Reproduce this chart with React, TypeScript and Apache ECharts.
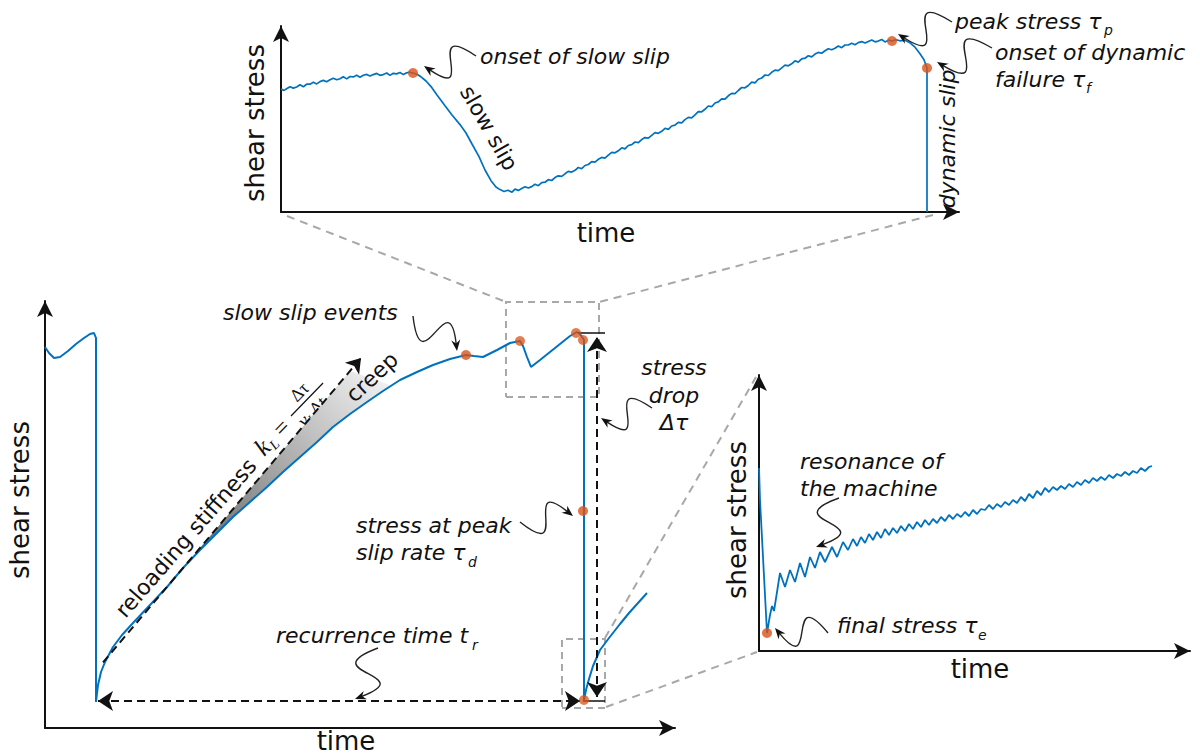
import React, { useEffect, useRef } from "react";
import * as echarts from "echarts";

const BLUE = "#0072BD";
const ORANGE = "#D95319";
const SANS = "'DejaVu Sans', Verdana, sans-serif";
const SERIF = "'Liberation Serif', 'DejaVu Serif', serif";

// ---------- top panel: one slow slip + dynamic event (time, shear stress) ----------
const topStress: number[][] = [
  [0, 122.9], [3, 121.6], [6, 123.5], [9, 125.3], [12.3, 123.9], [15.7, 125.0], [19, 127.2], [22.3, 125.3],
  [25.7, 127.8], [29, 127.8], [32.3, 129.7], [35.7, 128.1], [39, 130.4], [42.3, 131.6], [45.7, 130.2],
  [49, 132.2], [52.3, 133.8], [55.7, 132.2], [59, 133.2], [62.3, 135.2], [65.7, 133.1], [69, 135.5],
  [72.3, 135.1], [75.7, 136.7], [79, 134.8], [82.3, 136.7], [85.7, 137.6], [89, 135.9], [92.3, 137.4],
  [95.7, 138.6], [99, 136.7], [102.3, 137.4], [105.7, 139], [109, 136.6], [112.3, 138.7], [115.7, 138.1],
  [119, 139.5], [122.3, 137.4], [125.7, 139.2], [129, 139.8], [132, 139],
  [136, 137.8], [140, 135.2], [145, 131], [150, 125.4], [156, 117], [164, 106.3], [171, 97], [179, 87.4],
  [185, 79], [191, 68], [198, 55.4], [204, 42], [210, 31.3], [215, 25], [219, 22.4], [223, 20.5], [227, 21.8],
  [231, 19.8],
  [234, 22.9], [237.3, 21.6], [240.7, 23.5], [244, 25.3], [247.3, 24.0], [250.7, 25.4], [254, 27.7],
  [257.3, 26.3], [260.7, 29.3], [264, 29.8], [267.3, 32.3], [270.7, 31.5], [274, 34.4], [277.3, 36.2],
  [280.7, 35.6], [284, 38.2], [287.3, 40.6], [290.7, 39.9], [294, 41.7], [297.3, 44.5], [300.7, 43.3],
  [304, 46.5], [307.3, 47.5], [310.7, 50.3], [314, 49.8], [317.3, 52.7], [320.7, 54.6], [324, 53.9],
  [327.3, 56.9], [330.7, 59.6], [334, 59.2], [337.3, 61.2], [340.7, 64.2], [344, 63.1], [347.3, 66.5],
  [350.7, 67.3], [354, 70], [357.3, 69.3], [360.7, 72.4], [364, 74.4], [367.3, 73.9], [370.7, 76.7],
  [374, 79.3], [377.3, 78.7], [380.7, 80.7], [384, 83.7], [387.3, 82.6], [390.7, 86], [394, 86.8],
  [397.3, 89.7], [400.7, 89.1], [404, 92.4], [407.3, 94.6], [410.7, 94.2], [414, 97.2], [417.3, 100.3],
  [420.7, 100.2], [424, 102.7], [427.3, 106], [430.7, 105.3], [434, 109], [437.3, 110.1], [440.7, 113.2],
  [444, 112.8], [447.3, 116.2], [450.7, 118.6], [454, 118.4], [457.3, 121.5], [460.7, 124.5], [464, 124.2],
  [467.3, 126.5], [470.7, 129.9], [474, 129.1], [477.3, 132.8], [480.7, 134], [484, 137], [487.3, 136.5],
  [490.7, 139.7], [494, 141.9], [497.3, 141.4], [500.7, 144.2], [504, 146.8], [507.3, 146.2], [510.7, 148.2],
  [514, 151.2], [517.3, 149.9], [520.7, 153.2], [524, 153.8], [527.3, 156.2], [530.7, 155.1], [534, 157.9],
  [537.3, 159.6], [540.7, 158.7], [544, 161.2], [547.3, 163.3], [550.7, 162.2], [554, 163.7], [557.3, 166],
  [560.7, 164.3], [564, 167], [567.3, 167], [570.7, 168.8], [574, 167.3], [577.3, 169.4], [580.7, 170.4],
  [584, 168.9], [587.3, 170.5], [590.7, 172], [594, 170.2], [597.3, 170.9], [600.7, 172.5], [604, 170.1],
  [607.5, 171.8], [611, 171],
  [615, 172.2], [619, 171.2], [624, 171.8], [629, 169.2], [634, 164.8], [639, 158.2], [643, 152.3],
  [646, 144], [646, 0],
];
const topMarks: number[][] = [[132, 139], [611, 171], [646, 144]];

// ---------- main panel: stick-slip cycle ----------
const mainStress: number[][] = [
  [0, 381], [4, 375], [9, 370], [15, 371], [23, 377], [31, 384], [39, 390], [45, 394], [49, 395], [51, 390],
  [51, 26], [53, 43], [56, 56], [60, 66], [68, 81], [77, 93], [88, 105], [105, 123], [122, 141], [138, 160],
  [155, 178], [172, 195], [188, 211], [205, 226], [222, 241], [238, 256], [255, 271], [272, 286], [288, 301],
  [305, 314], [322, 326], [338, 337], [355, 348], [372, 356], [388, 363], [405, 369], [421, 373], [429, 372],
  [438, 371], [452, 378], [465, 385], [475, 387], [478, 382], [482, 371], [486, 361], [495, 368], [505, 376],
  [515, 384], [525, 392], [532, 396], [535, 394], [539, 388],
  [539, 28], [541, 38], [544, 49], [548, 62], [555, 78], [564, 90], [575, 104], [584, 115], [593, 125], [602, 135],
];
const mainMarksSolid: number[][] = [[421, 373], [538, 217]];
const mainMarksLight: number[][] = [[475, 387], [531, 395], [538, 388], [539, 28]];
const tangentLine: number[][] = [[58, 65.6], [316, 370]];
const creepArea: number[][] = [
  [155, 180], [305, 357], [345, 343], [338, 337], [322, 326], [305, 314], [288, 301], [272, 286],
  [255, 271], [238, 256], [222, 241], [205, 226], [188, 211], [172, 195], [155, 178],
];
const recurrenceArrow: number[][] = [[53, 27], [535, 27]];
const dropArrow: number[][] = [[552, 31], [552, 391]];
const dropTicks: number[][][] = [[[533, 395], [560, 395]], [[538, 27], [560, 27]]];
const zoomBoxTop: number[][] = [[461, 331], [554, 331], [554, 426], [461, 426], [461, 331]];
const zoomBoxBottom: number[][] = [[517, 20], [560, 20], [560, 89], [517, 89], [517, 20]];

// ---------- right panel: after the event, machine resonance ----------
const resStress: number[][] = [
  [0, 183], [1, 151], [8, 18], [11, 36], [13, 45], [15, 40], [21, 78], [26, 64], [31, 81], [36, 69],
  [41, 88], [46, 74], [51, 94], [56, 83], [61, 99], [66, 89], [73, 104], [78, 94], [84, 109], [89, 101],
  [94, 112], [98, 105], [102, 114], [106, 108], [110, 117], [114, 111], [118, 119], [122, 113], [126, 122],
  [130, 116], [134, 123], [138, 118], [142, 125], [146, 120], [150, 127], [154, 122], [158, 129], [162, 124],
  [166, 131], [170, 126], [174, 132], [178, 128], [182, 134], [186, 130], [190, 136], [194, 132], [198, 137],
  [202, 134], [206, 139], [210, 135], [214, 141], [218, 137], [222, 142], [226, 141], [230, 146], [234, 142],
  [238, 147], [242, 144], [246, 149], [250, 146], [254, 151], [258, 148], [262, 154], [266, 150], [270, 157],
  [274, 153], [278, 160], [282, 156], [286, 163], [290, 159], [294, 164], [298, 161], [302, 165], [306, 162],
  [310, 167], [314, 164], [318, 169], [322, 166], [326, 171], [330, 168], [334, 173], [338, 170], [342, 174],
  [346, 171], [350, 176], [354, 173], [358, 177], [362, 175], [366, 179], [370, 176], [374, 180], [378, 178],
  [382, 183], [386, 180], [390, 184], [393, 185],
];
const resMarks: number[][] = [[8, 18]];

// ---------- helpers for annotations ----------
function txt(text: string, x: number, y: number, o: any = {}) {
  return {
    type: "text", x, y, z: 30, rotation: o.rot || 0,
    style: {
      text, fill: "#111", fontSize: o.size || 22, fontFamily: o.family || SANS,
      fontStyle: o.italic ? "italic" : "normal",
      align: o.align || "left", verticalAlign: "middle",
    },
  };
}
const it = (text: string, x: number, y: number, o: any = {}) => txt(text, x, y, { italic: true, ...o });
const sub = (text: string, x: number, y: number) => txt(text, x, y, { italic: true, size: 14 });

function squiggle(sx: number, sy: number, ex: number, ey: number, amp = 0.9, flip = 1) {
  const dx = ex - sx, dy = ey - sy;
  const len = Math.hypot(dx, dy);
  const nx = (-dy / len) * flip, ny = (dx / len) * flip;
  const a = len * amp;
  const c1x = sx + dx * 0.9 + nx * a, c1y = sy + dy * 0.9 + ny * a;
  const c2x = sx + dx * 0.1 - nx * a, c2y = sy + dy * 0.1 - ny * a;
  let ux = ex - c2x, uy = ey - c2y;
  const ul = Math.hypot(ux, uy);
  ux /= ul; uy /= ul;
  const L = 11, W = 4.5;
  const bx = ex - ux * L, by = ey - uy * L;
  const px = -uy, py = ux;
  return [
    {
      type: "bezierCurve", z: 30,
      shape: { x1: sx, y1: sy, x2: ex - ux * 7, y2: ey - uy * 7, cpx1: c1x, cpy1: c1y, cpx2: c2x, cpy2: c2y },
      style: { stroke: "#222", lineWidth: 1.4, fill: null },
    },
    {
      type: "polygon", z: 30,
      shape: { points: [[ex, ey], [bx + px * W, by + py * W], [ex - ux * 7.5, ey - uy * 7.5], [bx - px * W, by - py * W]] },
      style: { fill: "#111" },
    },
  ];
}

function connector(x1: number, y1: number, x2: number, y2: number) {
  return {
    type: "line", z: 1, shape: { x1, y1, x2, y2 },
    style: { stroke: "#a8a8a8", lineWidth: 2, lineDash: [8, 6] },
  };
}

const axisLine = { show: true, onZero: false, lineStyle: { color: "#111", width: 2 }, symbol: ["none", "arrow"], symbolSize: [12, 16] };
const baseAxis = { type: "value", min: 0, axisLine, axisTick: { show: false }, axisLabel: { show: false }, splitLine: { show: false } };

export default function App() {
  const ref = useRef<HTMLDivElement>(null);
  useEffect(() => {
    if (!ref.current) return;
    const chart = echarts.init(ref.current, undefined, { renderer: "svg" });

    const mathGroup = {
      type: "group", x: 291, y: 416, rotation: 0.8, z: 30,
      children: [
        { type: "text", x: -48, y: 1, style: { text: "k", fontSize: 25, fontFamily: SERIF, fontStyle: "italic", fill: "#111", verticalAlign: "middle" } },
        { type: "text", x: -36, y: 8, style: { text: "L", fontSize: 14, fontFamily: SERIF, fontStyle: "italic", fill: "#111", verticalAlign: "middle" } },
        { type: "text", x: -22, y: 1, style: { text: "=", fontSize: 24, fontFamily: SERIF, fill: "#111", verticalAlign: "middle" } },
        { type: "line", shape: { x1: 0, y1: 0, x2: 46, y2: 0 }, style: { stroke: "#111", lineWidth: 1.2 } },
        { type: "text", x: 23, y: -11, style: { text: "Δτ", fontSize: 18, fontFamily: SERIF, fill: "#111", align: "center", verticalAlign: "middle" } },
        { type: "text", x: 1, y: 12, style: { text: "v", fontSize: 19, fontFamily: SERIF, fontStyle: "italic", fill: "#111", verticalAlign: "middle" } },
        { type: "text", x: 10, y: 16, style: { text: "L", fontSize: 11, fontFamily: SERIF, fontStyle: "italic", fill: "#111", verticalAlign: "middle" } },
        { type: "text", x: 18, y: 12, style: { text: "Δt", fontSize: 18, fontFamily: SERIF, fill: "#111", verticalAlign: "middle" } },
      ],
    };

    const graphics: any[] = [
      connector(287, 216, 506, 302),
      connector(933, 215, 599, 302),
      connector(606, 707, 757, 652),
      connector(605, 638, 756, 377),
      // top panel
      txt("shear stress", 255, 123, { size: 26, rot: Math.PI / 2, align: "center" }),
      txt("time", 606, 233, { size: 26, align: "center" }),
      it("onset of slow slip", 480, 56),
      txt("slow slip", 489, 128, { rot: -1.05, align: "center" }),
      it("dynamic slip", 947, 139, { rot: Math.PI / 2, align: "center" }),
      it("peak stress τ", 955, 21), sub("p", 1104, 30),
      it("onset of dynamic", 995, 52),
      it("failure τ", 995, 79), sub("f", 1086, 88),
      ...squiggle(476, 56, 424, 66),
      ...squiggle(952, 22, 898, 34),
      ...squiggle(992, 48, 937, 62),
      // main panel
      txt("shear stress", 20, 500, { size: 26, rot: Math.PI / 2, align: "center" }),
      txt("time", 346, 741, { size: 26, align: "center" }),
      it("slow slip events", 223, 312),
      txt("reloading stiffness", 186, 538, { rot: 0.855, align: "center" }),
      mathGroup,
      txt("creep", 372, 377, { rot: 0.75, align: "center" }),
      it("stress at peak", 356, 525),
      it("slip rate τ", 356, 552), sub("d", 468, 562),
      it("recurrence time t", 276, 635), sub("r", 472, 645),
      it("stress", 674, 367, { align: "center" }),
      it("drop", 674, 395, { align: "center" }),
      it("Δτ", 674, 422, { align: "center" }),
      ...squiggle(413, 316, 457, 351),
      ...squiggle(652, 408, 601, 418),
      ...squiggle(520, 522, 573, 516),
      ...squiggle(378, 648, 355, 699),
      // right panel
      txt("shear stress", 737, 520, { size: 26, rot: Math.PI / 2, align: "center" }),
      txt("time", 980, 669, { size: 26, align: "center" }),
      it("resonance of", 800, 461),
      it("the machine", 800, 488),
      it("final stress τ", 837, 625), sub("e", 978, 635),
      ...squiggle(839, 498, 816, 547),
      ...squiggle(828, 633, 775, 628),
    ];

    const option: any = {
      animation: false,
      backgroundColor: "#fff",
      grid: [
        { left: 281, top: 26, width: 678, height: 186 },
        { left: 45, top: 301, width: 630, height: 427 },
        { left: 759, top: 375, width: 431, height: 276 },
      ],
      xAxis: [
        { ...baseAxis, gridIndex: 0, max: 678 },
        { ...baseAxis, gridIndex: 1, max: 630 },
        { ...baseAxis, gridIndex: 2, max: 431 },
      ],
      yAxis: [
        { ...baseAxis, gridIndex: 0, max: 186 },
        { ...baseAxis, gridIndex: 1, max: 427 },
        { ...baseAxis, gridIndex: 2, max: 276 },
      ],
      graphic: graphics,
      series: [
        // top
        { type: "line", xAxisIndex: 0, yAxisIndex: 0, data: topStress, showSymbol: false, clip: false,
          lineStyle: { color: BLUE, width: 1.7 }, z: 3 },
        { type: "scatter", xAxisIndex: 0, yAxisIndex: 0, data: topMarks, symbolSize: 10,
          itemStyle: { color: ORANGE }, z: 5 },
        // main
        { type: "custom", xAxisIndex: 1, yAxisIndex: 1, data: [[0, 0]], z: 1, silent: true, clip: false,
          renderItem: (_p: any, api: any) => ({
            type: "polygon",
            shape: { points: creepArea.map((p) => api.coord(p)) },
            style: {
              fill: new echarts.graphic.LinearGradient(0, 1, 1, 0, [
                { offset: 0, color: "#6a6a6a" },
                { offset: 0.5, color: "#b0b0b0" },
                { offset: 1, color: "#f6f6f6" },
              ]),
            },
          }) },
        { type: "lines", coordinateSystem: "cartesian2d", xAxisIndex: 1, yAxisIndex: 1, polyline: true, z: 2,
          symbol: ["none", "none"], lineStyle: { color: "#a8a8a8", width: 2, type: [7, 5], opacity: 1 },
          data: [{ coords: zoomBoxTop }, { coords: zoomBoxBottom }] },
        { type: "line", xAxisIndex: 1, yAxisIndex: 1, data: mainStress, showSymbol: false, clip: false,
          lineStyle: { color: BLUE, width: 2 }, z: 3 },
        { type: "lines", coordinateSystem: "cartesian2d", xAxisIndex: 1, yAxisIndex: 1, z: 4,
          symbol: ["none", "arrow"], symbolSize: 14, lineStyle: { color: "#111", width: 2, type: [8, 5], opacity: 1 },
          data: [{ coords: tangentLine }] },
        { type: "lines", coordinateSystem: "cartesian2d", xAxisIndex: 1, yAxisIndex: 1, z: 4,
          symbol: ["arrow", "arrow"], symbolSize: 15, lineStyle: { color: "#111", width: 2, type: [8, 5], opacity: 1 },
          data: [{ coords: recurrenceArrow }, { coords: dropArrow }] },
        { type: "lines", coordinateSystem: "cartesian2d", xAxisIndex: 1, yAxisIndex: 1, z: 4,
          symbol: ["none", "none"], lineStyle: { color: "#111", width: 1.5, opacity: 1 },
          data: dropTicks.map((c) => ({ coords: c })) },
        { type: "scatter", xAxisIndex: 1, yAxisIndex: 1, data: mainMarksSolid, symbolSize: 10,
          itemStyle: { color: ORANGE }, z: 5 },
        { type: "scatter", xAxisIndex: 1, yAxisIndex: 1, data: mainMarksLight, symbolSize: 10,
          itemStyle: { color: ORANGE, opacity: 0.75 }, z: 5 },
        // right
        { type: "line", xAxisIndex: 2, yAxisIndex: 2, data: resStress, showSymbol: false, clip: false,
          lineStyle: { color: BLUE, width: 1.8 }, z: 3 },
        { type: "scatter", xAxisIndex: 2, yAxisIndex: 2, data: resMarks, symbolSize: 10,
          itemStyle: { color: ORANGE }, z: 5 },
      ],
    };
    chart.setOption(option);
    return () => chart.dispose();
  }, []);
  return <div ref={ref} style={{ position: "absolute", left: 0, top: 0, width: 1200, height: 756 }} />;
}
